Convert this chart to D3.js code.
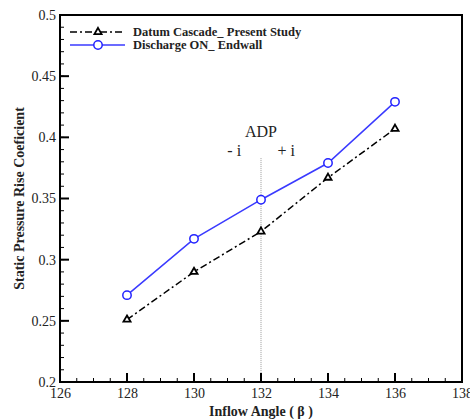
<!DOCTYPE html>
<html>
<head>
<meta charset="utf-8">
<script src="https://cdn.jsdelivr.net/npm/d3@7"></script>
<style>
  body { margin: 0; background: #fff; }
  text { font-family: "Liberation Serif", "Times New Roman", serif; }
</style>
</head>
<body>
<svg id="chart" width="470" height="419"></svg>
<script>
// inflow angle (deg) and static pressure rise coefficient
const angles = [128, 130, 132, 134, 136];
const datumCascade = [0.251, 0.290, 0.323, 0.367, 0.407];
const dischargeOn = [0.271, 0.317, 0.349, 0.379, 0.429];
const xTicks = [126, 128, 130, 132, 134, 136, 138];
const yTicks = [0.2, 0.25, 0.3, 0.35, 0.4, 0.45, 0.5];
const seriesNames = ['Datum Cascade_ Present Study', 'Discharge ON_ Endwall'];

const margin = { top: 15, right: 8, bottom: 37, left: 60 };

const svg = d3.select('#chart'),
  width = +svg.attr('width') - margin.left - margin.right,
  height = +svg.attr('height') - margin.top - margin.bottom;

const g = svg.append('g')
  .attr('transform', 'translate(' + margin.left + ',' + margin.top + ')');

const x = d3.scaleLinear().domain([126, 138]).range([0, width]);
const y = d3.scaleLinear().domain([0.2, 0.5]).range([height, 0]);

// tick labels via axes (no tick lines)
const xAxis = g.append('g')
  .attr('transform', 'translate(0,' + height + ')')
  .call(d3.axisBottom(x).tickValues(xTicks).tickSize(0).tickPadding(6).tickFormat(d3.format('d')));
xAxis.select('.domain').remove();
xAxis.selectAll('text').attr('font-size', 14).attr('fill', '#222')
  .style('font-family', '"Liberation Serif", serif');

const yAxis = g.append('g')
  .call(d3.axisLeft(y).tickValues(yTicks).tickSize(0).tickPadding(4).tickFormat(d => String(+d.toFixed(2))));
yAxis.select('.domain').remove();
yAxis.selectAll('text').attr('font-size', 14).attr('fill', '#222')
  .style('font-family', '"Liberation Serif", serif');

// ADP reference line
g.append('line')
  .attr('x1', x(132)).attr('x2', x(132))
  .attr('y1', y(0.383)).attr('y2', height)
  .attr('stroke', '#999').attr('stroke-width', 1)
  .attr('stroke-dasharray', '1,1');

g.append('text').attr('x', x(132)).attr('y', y(0.4)).attr('text-anchor', 'middle')
  .attr('font-size', 16).attr('fill', '#222').text('ADP');
g.append('text').attr('x', x(131.2)).attr('y', y(0.3845)).attr('text-anchor', 'middle')
  .attr('font-size', 16).attr('fill', '#222').text('- i');
g.append('text').attr('x', x(132.75)).attr('y', y(0.3845)).attr('text-anchor', 'middle')
  .attr('font-size', 16).attr('fill', '#222').text('+ i');

const line = d3.line().x((d, i) => x(angles[i])).y(d => y(d));

// datum cascade: dash-dot black with triangles
g.append('path').datum(datumCascade)
  .attr('d', line).attr('fill', 'none')
  .attr('stroke', '#000').attr('stroke-width', 1.5)
  .attr('stroke-dasharray', '7,3,2,3');

const tri = d3.symbol().type(d3.symbolTriangle).size(22);
g.selectAll('.tri').data(datumCascade).join('path')
  .attr('class', 'tri')
  .attr('transform', (d, i) => 'translate(' + x(angles[i]) + ',' + y(d) + ')')
  .attr('d', tri).attr('fill', '#fff').attr('stroke', '#000').attr('stroke-width', 1.8);

// discharge on: blue solid with circles
g.append('path').datum(dischargeOn)
  .attr('d', line).attr('fill', 'none')
  .attr('stroke', '#3a3aff').attr('stroke-width', 1.5);

g.selectAll('.circ').data(dischargeOn).join('circle')
  .attr('class', 'circ')
  .attr('cx', (d, i) => x(angles[i])).attr('cy', d => y(d)).attr('r', 4.2)
  .attr('fill', '#fff').attr('stroke', '#2222ff').attr('stroke-width', 1.5);

// frame
g.append('rect').attr('width', width).attr('height', height)
  .attr('fill', 'none').attr('stroke', '#000').attr('stroke-width', 2);

// tick marks drawn inward from the bottom and left edges
const xMinor = d3.range(126, 138.01, 0.5);
const yMinor = d3.range(0.2, 0.5001, 0.01);
const tickG = g.append('g').attr('class', 'ticks');

tickG.selectAll('line.xminor').data(xMinor).enter().append('line')
  .attr('class', 'xminor')
  .attr('x1', d => x(d)).attr('x2', d => x(d))
  .attr('y1', height).attr('y2', height - 4)
  .style('stroke', '#000').style('stroke-width', '1px');
tickG.selectAll('line.yminor').data(yMinor).enter().append('line')
  .attr('class', 'yminor')
  .attr('x1', 0).attr('x2', 4)
  .attr('y1', d => y(d)).attr('y2', d => y(d))
  .style('stroke', '#000').style('stroke-width', '1px');
tickG.selectAll('line.xmajor').data(xTicks).enter().append('line')
  .attr('class', 'xmajor')
  .attr('x1', d => x(d)).attr('x2', d => x(d))
  .attr('y1', height).attr('y2', height - 9)
  .style('stroke', '#000').style('stroke-width', '2px');
tickG.selectAll('line.ymajor').data(yTicks).enter().append('line')
  .attr('class', 'ymajor')
  .attr('x1', 0).attr('x2', 9)
  .attr('y1', d => y(d)).attr('y2', d => y(d))
  .style('stroke', '#000').style('stroke-width', '2px');

// legend
const legend = g.append('g').attr('transform', 'translate(10,17)');
legend.append('line').attr('x1', 0).attr('x2', 55).attr('y1', 0).attr('y2', 0)
  .attr('stroke', '#000').attr('stroke-width', 1.5).attr('stroke-dasharray', '7,3,2,3');
legend.append('path').attr('transform', 'translate(28,0)').attr('d', tri)
  .attr('fill', '#fff').attr('stroke', '#000').attr('stroke-width', 1.8);
legend.append('text').attr('x', 63).attr('y', 4).attr('font-size', 12.5).attr('font-weight', 'bold')
  .attr('fill', '#222').text(seriesNames[0]);

legend.append('line').attr('x1', 0).attr('x2', 55).attr('y1', 13).attr('y2', 13)
  .attr('stroke', '#3a3aff').attr('stroke-width', 1.5);
legend.append('circle').attr('cx', 28).attr('cy', 13).attr('r', 4.2)
  .attr('fill', '#fff').attr('stroke', '#2222ff').attr('stroke-width', 1.5);
legend.append('text').attr('x', 63).attr('y', 17).attr('font-size', 12.5).attr('font-weight', 'bold')
  .attr('fill', '#222').text(seriesNames[1]);

// axis titles
svg.append('text')
  .attr('x', margin.left + width / 2).attr('y', 416)
  .attr('text-anchor', 'middle').attr('font-size', 14).attr('font-weight', 'bold')
  .attr('fill', '#222').text('Inflow Angle ( β )');

svg.append('text')
  .attr('transform', 'translate(24,' + (margin.top + height / 2) + ') rotate(-90)')
  .attr('text-anchor', 'middle').attr('font-size', 14).attr('font-weight', 'bold')
  .attr('fill', '#222').text('Static Pressure Rise Coeficient');
</script>
</body>
</html>
